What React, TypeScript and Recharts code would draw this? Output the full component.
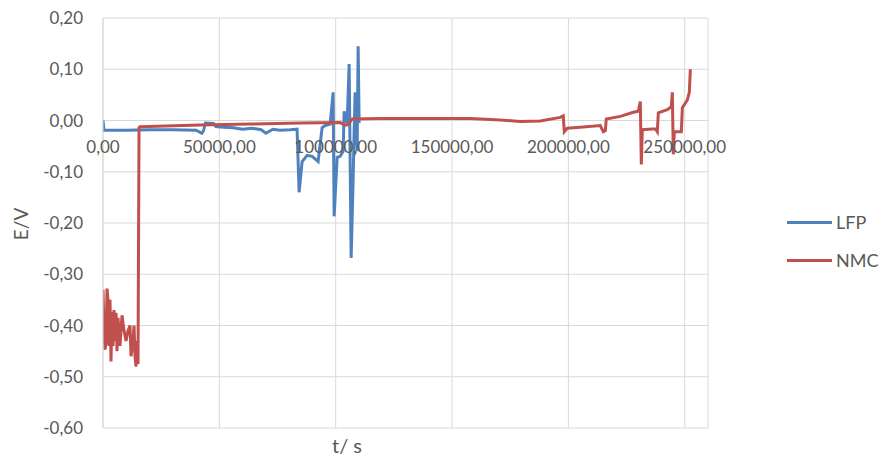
import React from "react";
import { LineChart, Line, XAxis, YAxis, CartesianGrid, ReferenceLine } from "recharts";

// t in seconds, E in volts
const lfpTime = [0, 400, 10000, 20000, 30000, 40000, 42500, 43200, 44000, 47500, 48500, 52000, 56000, 60000, 64000, 68000, 70000, 73000, 76000, 80400, 83400, 84280, 85570, 87720, 89870, 92450, 94170, 95460, 97610, 98900, 99330, 100620, 101910, 103200, 103630, 104920, 105780, 106640, 107500, 107930, 108360, 109220, 109650, 110080];
const lfpVolt = [0, -0.019, -0.019, -0.018, -0.018, -0.019, -0.025, -0.02, -0.005, -0.006, -0.012, -0.013, -0.014, -0.017, -0.015, -0.018, -0.025, -0.017, -0.019, -0.018, -0.017, -0.14, -0.08, -0.068, -0.07, -0.08, -0.014, -0.01, -0.007, 0.055, -0.187, -0.072, -0.07, -0.06, 0.018, -0.005, 0.11, -0.268, -0.115, -0.02, 0.055, -0.06, 0.145, -0.005];

const nmcTime = [0, 430, 860, 1290, 1720, 2150, 2580, 3010, 3440, 3870, 4300, 4730, 5160, 5590, 6020, 6450, 7310, 8170, 9030, 9890, 10750, 11610, 12040, 12900, 13330, 13760, 14190, 14620, 15050, 15480, 15910, 41710, 63210, 84710, 101910, 104060, 105350, 107070, 119110, 157810, 170710, 179310, 187910, 196510, 197800, 198230, 199520, 205110, 213710, 215000, 215860, 216290, 222310, 227900, 230050, 230910, 231340, 231770, 237360, 238220, 238650, 242520, 244240, 244670, 245100, 245530, 248540, 248970, 251120, 251980, 252410];
const nmcVolt = [-0.33, -0.41, -0.447, -0.435, -0.328, -0.35, -0.44, -0.35, -0.47, -0.373, -0.44, -0.37, -0.43, -0.375, -0.45, -0.385, -0.44, -0.38, -0.41, -0.43, -0.41, -0.4, -0.46, -0.43, -0.4, -0.46, -0.48, -0.43, -0.475, -0.014, -0.012, -0.009, -0.007, -0.005, -0.004, -0.009, -0.008, 0.003, 0.004, 0.004, 0.001, -0.002, -0.001, 0.006, 0.009, -0.022, -0.015, -0.013, -0.01, -0.022, -0.02, 0.003, 0.008, 0.016, 0.018, 0.037, -0.086, -0.018, -0.016, -0.022, 0.015, 0.021, 0.027, 0.055, -0.066, -0.022, -0.022, 0.025, 0.04, 0.055, 0.1];

const xTicks = [0, 50000, 100000, 150000, 200000, 250000];
const yTicks = [-0.6, -0.5, -0.4, -0.3, -0.2, -0.1, 0, 0.1, 0.2];

const lfpData = lfpTime.map((t, i) => ({ t, e: lfpVolt[i] }));
const nmcData = nmcTime.map((t, i) => ({ t, e: nmcVolt[i] }));

const BLUE = "#4F81BD";
const RED = "#C0504D";
const TEXT = "#595959";
const GRID = "#d9d9d9";
const FONT = "Lato, 'Open Sans', sans-serif";

const fmt = (v: number) => v.toFixed(2).replace(".", ",");

// x labels sit under the y=0 axis line, not at the bottom
const XTick = (props: any) => {
  const { x, payload } = props;
  return (
    <text x={x} y={153} textAnchor="middle" fill={TEXT} fontSize={17} fontFamily={FONT}>
      {fmt(payload.value)}
    </text>
  );
};

const series = [
  { name: "LFP", color: BLUE },
  { name: "NMC", color: RED },
];

export default function App() {
  return (
    <div style={{ position: "absolute", left: 0, top: 0, width: 881, height: 457, background: "#fff" }}>
      <LineChart width={881} height={457} margin={{ top: 18, right: 173, bottom: 9, left: 43 }}>
        <CartesianGrid stroke={GRID} strokeWidth={1} />
        <XAxis
          dataKey="t"
          type="number"
          domain={[0, 260000]}
          ticks={xTicks}
          allowDataOverflow
          height={20}
          axisLine={false}
          tickLine={false}
          tick={<XTick />}
        />
        <YAxis
          type="number"
          domain={[-0.6, 0.2]}
          ticks={yTicks}
          width={60}
          axisLine={{ stroke: GRID }}
          tickLine={false}
          tickSize={6}
          tickMargin={14}
          tickFormatter={fmt}
          tick={{ fill: TEXT, fontSize: 17, fontFamily: FONT }}
        />
        <ReferenceLine y={0} stroke={GRID} strokeWidth={1} />
        <Line data={lfpData} dataKey="e" name="LFP" type="linear" stroke={BLUE} strokeWidth={3} dot={false} isAnimationActive={false} />
        <Line data={nmcData} dataKey="e" name="NMC" type="linear" stroke={RED} strokeWidth={3} dot={false} isAnimationActive={false} />
      </LineChart>
      <div style={{ position: "absolute", left: 787, top: 203, fontFamily: FONT, fontSize: 18, color: TEXT }}>
        {series.map((s) => (
          <div key={s.name} style={{ display: "flex", alignItems: "center", height: 38 }}>
            <div style={{ width: 45, height: 3, background: s.color, marginRight: 4 }} />
            <span>{s.name}</span>
          </div>
        ))}
      </div>
      <div style={{ position: "absolute", left: 1, top: 213, width: 40, height: 22, transform: "rotate(-90deg)", fontFamily: FONT, fontSize: 19, color: TEXT, textAlign: "center", lineHeight: "22px" }}>
        E/V
      </div>
      <div style={{ position: "absolute", left: 307, top: 432, width: 80, height: 26, lineHeight: "26px", textAlign: "center", fontFamily: FONT, fontSize: 20, color: TEXT }}>
        t/ s
      </div>
    </div>
  );
}
